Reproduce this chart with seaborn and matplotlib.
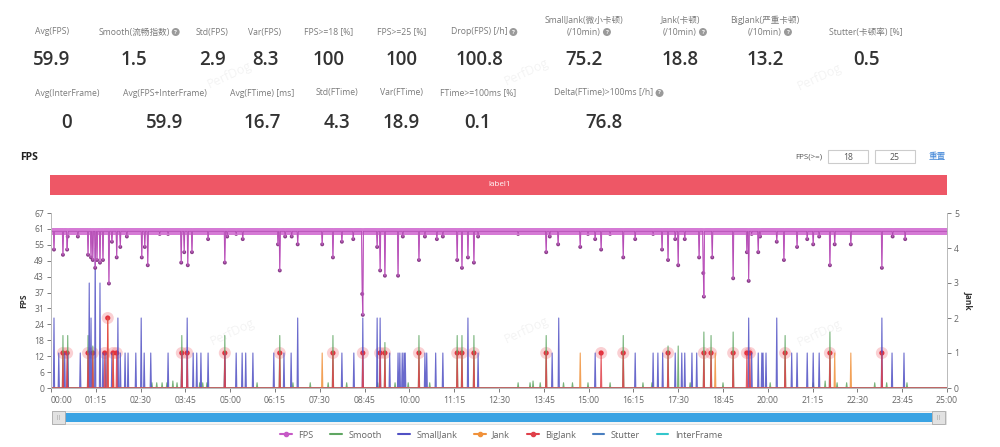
import matplotlib
matplotlib.use("Agg")
import matplotlib.pyplot as plt
from matplotlib.lines import Line2D
from matplotlib.patches import Rectangle
import numpy as np
import pandas as pd
import seaborn as sns

sns.set_theme(style="white")
plt.rcParams["font.family"] = ["Open Sans", "Noto Sans CJK SC", "DejaVu Sans"]

# ---- summary metrics ----
row1_top = ["", "", "", "", "", "", "", "SmallJank(微小卡顿)", "Jank(卡顿)", "BigJank(严重卡顿)", ""]
row1_labels = ["Avg(FPS)", "Smooth(流畅指数)", "Std(FPS)", "Var(FPS)", "FPS>=18 [%]", "FPS>=25 [%]",
               "Drop(FPS) [/h]", "(/10min)", "(/10min)", "(/10min)", "Stutter(卡顿率) [%]"]
row1_values = ["59.9", "1.5", "2.9", "8.3", "100", "100", "100.8", "75.2", "18.8", "13.2", "0.5"]
row1_help = [False, True, False, False, False, False, True, True, True, True, False]
row2_labels = ["Avg(InterFrame)", "Avg(FPS+InterFrame)", "Avg(FTime) [ms]", "Std(FTime)",
               "Var(FTime)", "FTime>=100ms [%]", "Delta(FTime)>100ms [/h]"]
row2_values = ["0", "59.9", "16.7", "4.3", "18.9", "0.1", "76.8"]
row2_help = [False, False, False, False, False, False, True]

# ---- time series (seconds) ----
duration = 1500
fps_base = 60
fps_dip_t = [5, 20, 27, 28, 45, 62, 67, 70, 74, 77, 82, 87, 97, 102, 110, 116, 127, 152, 157, 162,
             182, 196, 218, 223, 229, 236, 263, 291, 295, 310, 321, 380, 383, 392, 403, 413, 454,
             472, 487, 506, 521, 522, 546, 551, 559, 581, 589, 616, 626, 646, 656, 680, 688, 698,
             708, 715, 782, 829, 835, 849, 886, 899, 911, 921, 936, 958, 978, 1008, 1023, 1033,
             1045, 1050, 1061, 1085, 1092, 1093, 1107, 1142, 1165, 1168, 1173, 1184, 1187, 1215,
             1227, 1249, 1266, 1276, 1286, 1304, 1312, 1339, 1391, 1409, 1430]
fps_dip_v = [53, 51, 53, 58, 58, 51, 50, 49, 46, 49, 48, 49, 40, 56, 50, 54, 58, 50, 54, 47,
             59, 59, 48, 52, 47, 52, 57, 48, 58, 59, 57, 55, 45, 58, 58, 55, 55,
             50, 56, 57, 36, 28, 54, 45, 43, 43, 58, 49, 58, 57, 58, 49, 46, 50,
             48, 58, 59, 52, 58, 55, 54, 59, 57, 53, 59, 50, 57, 59, 53, 49,
             57, 47, 57, 50, 44, 35, 50, 42, 52, 41, 59, 52, 58, 56,
             49, 54, 57, 55, 58, 47, 55, 55, 46, 58, 57]

smalljank_t = [5, 13, 23, 28, 49, 64, 67, 74, 82, 87, 92, 102, 112, 116, 124, 129, 142, 151, 156,
               167, 196, 219, 228, 238, 244, 251, 263, 291, 310, 320, 326, 338, 373, 390, 402, 413,
               487, 507, 522, 546, 551, 567, 581, 584, 588, 591, 593, 626, 629, 644, 656, 698, 715,
               839, 850, 911, 978, 1008, 1016, 1024, 1045, 1056, 1061, 1073, 1081, 1168, 1173,
               1184, 1190, 1192, 1197, 1215, 1240, 1249, 1266, 1276, 1286, 1391, 1408, 1428]
smalljank_v = [2, 1, 1, 1, 1, 3, 2, 4, 3, 1, 1, 1, 2, 1, 1, 1, 1, 2, 1,
               1, 1, 1, 2, 1, 1, 1, 1, 1, 1, 1, 1, 1, 1, 1, 1, 2,
               1, 1, 2, 2, 2, 1, 1, 1, 1, 1, 1, 1, 1, 1, 1, 2, 1,
               1, 2, 1, 1, 1, 1, 1, 1, 1, 1, 1, 1, 2, 1,
               1, 1, 1, 1, 2, 1, 1, 1, 1, 1, 2, 1, 1]

jank_t = [95, 104, 454, 886, 1112, 1312, 1339]
jank_v = [2, 1, 1, 1, 1, 1, 1]

bigjank_t = [20, 27, 62, 70, 90, 95, 104, 110, 219, 228, 291, 383, 472, 522, 551, 559, 616, 680,
             688, 708, 829, 921, 958, 1033, 1093, 1105, 1142, 1165, 1170, 1229, 1304, 1391]
bigjank_v = [1, 1, 1, 1, 1, 2, 1, 1, 1, 1, 1, 1, 1, 1, 1, 1, 1, 1,
             1, 1, 1, 1, 1, 1, 1, 1, 1, 1, 1, 1, 1, 1]

smooth_t = [20, 28, 62, 70, 169, 177, 186, 194, 204, 211, 219, 249, 254, 261, 291, 345, 383, 405,
            434, 464, 472, 495, 547, 559, 576, 598, 616, 634, 680, 688, 708, 782, 802, 807, 819,
            829, 858, 873, 899, 936, 958, 991, 1006, 1033, 1050, 1070, 1093, 1105, 1125, 1142,
            1204, 1229, 1276, 1296, 1304, 1316, 1332, 1379, 1399, 1433]
smooth_v = [1.5, 1.5, 1.5, 1.2, 0.15, 0.15, 0.15, 0.15, 0.2, 0.15, 1.5, 0.15, 0.15, 0.15, 1.5, 0.15,
            1.5, 0.15, 0.15, 0.15, 1.5, 0.15, 0.15, 1.3, 0.15, 0.15, 1.5, 0.15, 1.5, 1.5, 1.5, 0.15,
            0.15, 0.2, 0.15, 1.5, 0.15, 0.15, 0.15, 0.15, 1.5, 0.15, 0.15, 1.2, 1.2, 0.15, 1.6, 1.5,
            0.15, 1.6, 0.15, 1.5, 0.15, 0.2, 1.6, 0.15, 0.15, 0.15, 0.15, 0.15]

fps_ticks = [0, 6, 12, 18, 24, 31, 37, 43, 49, 55, 61, 67]
jank_ticks = [0, 1, 2, 3, 4, 5]

series_names = ["FPS", "Smooth", "SmallJank", "Jank", "BigJank", "Stutter", "InterFrame"]
colors = {"FPS": "#c659c6", "Smooth": "#5fa662", "SmallJank": "#5050c4", "Jank": "#f0913a",
          "BigJank": "#e0404a", "Stutter": "#4a7fc0", "InterFrame": "#33c6cc"}

t = np.arange(0, duration + 1)
fps = np.full(t.shape, float(fps_base))
fps[fps_dip_t] = fps_dip_v


def spikes(times, values):
    s = np.zeros(t.shape)
    s[times] = values
    return s


jank_df = pd.DataFrame({
    "t": t,
    "Smooth": spikes(smooth_t, smooth_v),
    "SmallJank": spikes(smalljank_t, smalljank_v),
    "Jank": spikes(jank_t, jank_v),
    "BigJank": spikes(bigjank_t, bigjank_v),
    "Stutter": np.zeros(t.shape),
    "InterFrame": np.zeros(t.shape),
})

W, H = 1000, 447
fig = plt.figure(figsize=(10, 4.47), dpi=100)
fig.patch.set_facecolor("white")


def fx(x):
    return x / W


def fy(y):
    return 1 - y / H


# ---- header metrics ----
label_c = "#7a7a7a"
value_c = "#333333"
help_items = []
row1_x = [52, 134, 212, 265, 329, 402, 479, 584, 680, 765, 866]
for x, top, lab, val, hp in zip(row1_x, row1_top, row1_labels, row1_values, row1_help):
    if top:
        fig.text(fx(x), fy(20), top, fontsize=6.2, color=label_c, ha="center", va="center")
    txt = fig.text(fx(x), fy(32), lab, fontsize=6.2, color=label_c, ha="center", va="center")
    fig.text(fx(x), fy(60), val, fontsize=13.5, color=value_c, ha="center", va="center",
             fontweight="semibold")
    if hp:
        help_items.append((txt, 32))

row2_x = [67, 165, 262, 337, 401, 478, 604]
for x, lab, val, hp in zip(row2_x, row2_labels, row2_values, row2_help):
    txt = fig.text(fx(x), fy(93), lab, fontsize=6.2, color=label_c, ha="center", va="center")
    fig.text(fx(x), fy(123), val, fontsize=13.5, color=value_c, ha="center", va="center",
             fontweight="semibold")
    if hp:
        help_items.append((txt, 93))

fig.canvas.draw()
renderer = fig.canvas.get_renderer()
for txt, yy in help_items:
    bb = txt.get_window_extent(renderer)
    fig.text(fx(bb.x1 + 6), fy(yy), "?", fontsize=4.3, color="white", ha="center", va="center",
             fontweight="bold",
             bbox=dict(boxstyle="circle,pad=0.25", fc="#9a9a9a", ec="none"))

# watermarks
for wx, wy in [(230, 75), (527, 72), (820, 77), (233, 332), (527, 330), (820, 333)]:
    fig.text(fx(wx), fy(wy), "PerfDog", fontsize=9, color="#000000", alpha=0.05,
             rotation=25, ha="center", va="center")

# ---- chart header ----
fig.text(fx(20), fy(158), "FPS", fontsize=7.5, fontweight="bold", color="#222222",
         ha="left", va="center")
fig.text(fx(822), fy(157), "FPS(>=)", fontsize=5.8, color="#555555", ha="right", va="center")
for bx, val in [(828, "18"), (875, "25")]:
    fig.patches.append(Rectangle((fx(bx), fy(163)), 40 / W, 13 / H, transform=fig.transFigure,
                                 fc="white", ec="#cccccc", lw=0.8))
    fig.text(fx(bx + 20), fy(157), val, fontsize=6.2, color="#555555", ha="center", va="center")
fig.text(fx(937), fy(157), "重置", fontsize=6.2, color="#3b82d6", ha="center", va="center")

fig.patches.append(Rectangle((fx(50), fy(195)), 897 / W, 20 / H, transform=fig.transFigure,
                             fc="#ee5766", ec="none"))
fig.text(fx(500), fy(185), "label1", fontsize=5.8, color="white", ha="center", va="center")

# ---- main chart ----
ax = fig.add_axes([fx(51), fy(388), 896 / W, 175 / H])
ax2 = ax.twinx()

for name in ["Smooth", "Stutter", "InterFrame", "SmallJank", "Jank", "BigJank"]:
    sns.lineplot(data=jank_df, x="t", y=name, ax=ax2, color=colors[name], lw=0.8,
                 alpha=0.85, legend=False)
sns.scatterplot(x=bigjank_t, y=bigjank_v, ax=ax2, s=75, color="#f27a82", alpha=0.35,
                edgecolor="none", legend=False)
sns.scatterplot(x=bigjank_t, y=bigjank_v, ax=ax2, s=14, color="#e3333f",
                edgecolor="none", legend=False)

# FPS: thick band of per-second markers along the top, thin drop lines
sns.lineplot(x=t, y=fps, ax=ax, color="#d57ad5", lw=0.8, marker="o", markersize=4.6,
             markeredgewidth=0, markevery=list(fps == fps_base), legend=False)
sns.lineplot(x=t, y=fps, ax=ax, color="#b048b0", lw=0.5, legend=False)
sns.scatterplot(x=fps_dip_t, y=fps_dip_v, ax=ax, s=8, color="#8a3d8a", edgecolor="none",
                legend=False)

ax.set_zorder(ax2.get_zorder() + 1)
ax.patch.set_visible(False)

ax.set_xlim(0, duration)
ax.set_ylim(0, 67)
ax2.set_ylim(0, 5)
xt = np.arange(0, duration + 1, 75)
ax.set_xticks(xt)
ax.set_xticklabels([f"{v // 60:02d}:{v % 60:02d}" for v in xt])
ax.set_yticks(np.linspace(0, 67, len(fps_ticks)))
ax.set_yticklabels([str(v) for v in fps_ticks])
ax2.set_yticks(jank_ticks)
ax2.set_yticklabels([str(v) for v in jank_ticks])
ax.set_xlabel("")
ax.set_ylabel("FPS", fontsize=6, fontweight="bold", color="#333333", labelpad=4)
ax2.set_ylabel("Jank", fontsize=6, fontweight="bold", color="#333333", rotation=270,
               labelpad=10)
ax.tick_params(axis="both", labelsize=6.2, colors="#666666", length=3, width=0.6, pad=2,
               direction="out")
ax.tick_params(axis="x", bottom=True, left=False, pad=3)
ax.tick_params(axis="y", left=True)
ax2.tick_params(axis="y", labelsize=6.2, colors="#666666", length=3, width=0.6, pad=2, right=True)
for a in (ax, ax2):
    a.spines["top"].set_visible(False)
    for sp in ["left", "right", "bottom"]:
        a.spines[sp].set_color("#bbbbbb")
        a.spines[sp].set_linewidth(0.7)
    a.grid(False)
first = ax.get_xticklabels()[0]
first.set_ha("left")

# ---- scroll bar ----
fig.patches.append(Rectangle((fx(52), fy(424)), 894 / W, 13 / H, transform=fig.transFigure,
                             fc="#f4f4f4", ec="#dddddd", lw=0.6))
fig.patches.append(Rectangle((fx(64), fy(422)), 868 / W, 9 / H, transform=fig.transFigure,
                             fc="#3aa3e3", ec="none"))
for hx in [52, 932]:
    fig.patches.append(Rectangle((fx(hx), fy(424)), 13 / W, 13 / H, transform=fig.transFigure,
                                 fc="#e2e2e2", ec="#aaaaaa", lw=0.6))
    fig.text(fx(hx + 6.5), fy(417.5), "||", fontsize=4, color="#888888", ha="center",
             va="center")

# ---- legend ----
markered = {"FPS", "Jank", "BigJank"}
handles = [Line2D([0], [0], color=colors[n], lw=1.5, marker="o" if n in markered else None,
                  markersize=3) for n in series_names]
fig.legend(handles, series_names, loc="center", bbox_to_anchor=(fx(501), fy(435)), ncol=7,
           frameon=False, fontsize=6.6, handlelength=1.3, columnspacing=1.8, handletextpad=0.7,
           labelcolor="#666666")

fig.savefig("out.png", dpi=100, facecolor="white")
